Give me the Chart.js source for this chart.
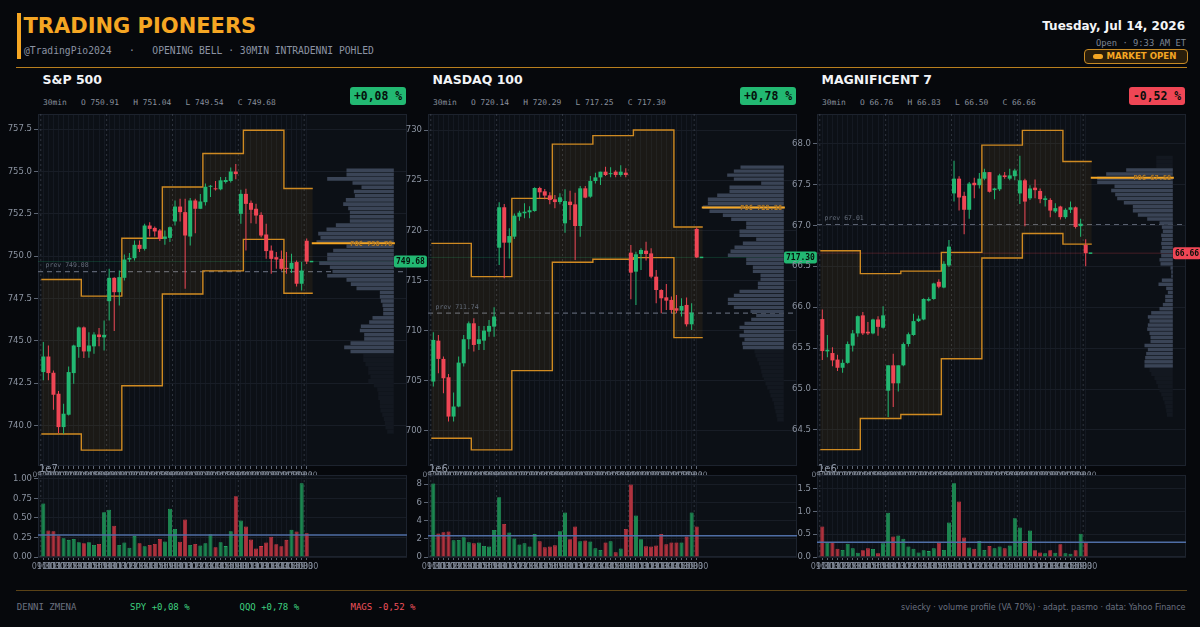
<!DOCTYPE html>
<html><head><meta charset="utf-8">
<script src="https://cdn.jsdelivr.net/npm/chart.js@4.4.1/dist/chart.umd.min.js"></script>
<style>
html,body{margin:0;padding:0;background:#06080c;width:1200px;height:627px;overflow:hidden;}
#root{position:relative;width:1200px;height:627px;overflow:hidden;}
.abs{position:absolute;white-space:pre;}
canvas{position:absolute;}
</style></head>
<body><div id="root"></div>
<script>
// ---------------- DATA ----------------
const timeLabels = [
 '09:30','10:00','10:30','11:00','11:30','12:00','12:30','13:00','13:30','14:00','14:30','15:00','15:30',
 '09:30','10:00','10:30','11:00','11:30','12:00','12:30','13:00','13:30','14:00','14:30','15:00','15:30',
 '09:30','10:00','10:30','11:00','11:30','12:00','12:30','13:00','13:30','14:00','14:30','15:00','15:30',
 '09:30','10:00','10:30','11:00','11:30','12:00','12:30','13:00','13:30','14:00','14:30','15:00','15:30',
 '09:30'];

const spxOpen  = [743.15,744.07,743.11,741.87,739.90,740.63,743.09,744.63,745.79,744.37,744.67,745.37,745.20,747.34,748.72,747.87,748.72,749.80,749.88,750.67,750.43,751.81,751.67,751.52,751.02,751.08,752.05,752.93,752.60,751.16,753.29,752.80,753.19,754.10,754.00,753.95,754.38,754.44,755.00,752.50,753.68,753.15,752.80,752.44,751.28,750.33,749.94,749.84,749.31,749.25,749.65,748.37,750.91];
const spxHigh  = [744.92,744.72,743.25,742.03,741.28,743.48,744.76,745.85,745.85,745.51,745.51,745.75,746.20,749.25,748.76,749.15,750.10,750.18,750.93,750.93,751.91,752.00,751.75,751.61,751.52,751.75,753.29,753.39,753.39,753.44,753.39,753.68,754.30,754.20,754.44,754.68,754.68,755.24,755.44,753.92,753.98,753.29,753.09,752.60,751.91,750.63,750.24,750.33,750.24,750.14,749.74,749.65,751.04];
const spxLow   = [742.66,742.66,740.93,739.55,739.51,740.59,742.46,744.00,743.98,744.00,744.23,744.67,744.43,746.20,745.57,747.09,748.56,749.65,749.74,750.24,750.33,751.16,751.16,750.89,750.67,750.83,751.81,752.05,748.07,750.63,751.36,752.80,753.00,753.50,753.88,753.90,754.30,754.35,754.54,751.91,750.33,751.95,751.91,751.12,749.84,748.96,749.25,749.15,748.96,749.00,748.21,747.97,749.54];
const spxClose = [744.07,743.09,741.81,739.90,740.69,743.15,744.72,745.79,744.37,744.72,745.37,745.22,745.35,748.72,747.87,748.76,749.80,749.90,750.67,750.43,751.81,751.61,751.46,751.02,751.16,751.71,752.93,752.60,751.22,753.29,752.80,753.23,754.10,754.15,753.95,754.48,754.50,755.00,754.85,753.68,753.09,752.74,752.40,751.22,750.30,749.84,749.80,749.25,749.25,749.61,748.37,749.15,749.68];
const spxVol   = [6.87,3.4,3.3,2.75,2.4,2.2,2.3,1.9,1.76,1.9,1.55,1.67,5.75,6.05,4.0,1.55,1.85,1.2,2.7,1.76,1.37,1.55,1.67,2.3,2.0,6.18,3.6,1.97,4.8,1.55,1.67,1.46,1.76,2.9,1.25,1.9,1.4,3.3,7.8,4.68,3.9,2.23,1.1,1.4,1.85,2.6,1.63,1.37,2.2,3.5,3.26,9.44,3.05];
const spxBandUpper = [748.62,747.64,751.06,754.09,756.07,757.44,754.00];
const spxBandLower = [739.49,738.54,742.34,747.76,749.13,750.99,747.81];
const spxProfile = [0,142,142,200,124,97,120,117,144,152,137,132,132,132,174,202,227,220,232,142,182,200,200,224,192,184,200,142,129,112,42,42,39,34,32,32,64,74,99,102,89,89,130,149,130,
  92,92,85,77,77,70,77,60,50,47,47,42,42,40,35,30,27,25,20];
const spxValueArea = [1,44];
const spxPrev = 749.08, spxPoc = 750.76;
const spxTicks = [740,742.5,745,747.5,750,752.5,755,757.5];
const spxVolTicks = [0,2.5,5,7.5,10];

const ndxOpen  = [704.92,709.00,707.18,705.35,701.43,702.43,706.74,709.14,710.73,708.67,709.00,709.90,710.40,718.27,722.30,718.77,719.37,721.36,721.70,721.80,721.93,724.22,723.89,723.49,723.09,722.82,720.70,722.86,722.59,720.43,724.19,723.36,724.92,725.28,725.85,725.60,725.85,725.52,725.75,717.77,715.88,717.64,717.97,717.70,715.38,714.05,713.32,713.06,712.23,711.99,712.56,710.63,720.14];
const ndxHigh  = [709.83,709.57,707.41,705.68,703.82,707.41,709.57,710.90,711.23,710.47,710.47,711.06,712.33,722.79,722.62,720.20,721.69,721.96,722.70,722.40,724.29,724.35,724.12,723.79,723.52,723.69,724.09,723.95,723.75,724.42,724.42,725.42,725.75,725.85,726.35,726.30,726.00,726.50,726.18,718.54,717.87,718.21,718.87,718.21,716.05,714.12,714.65,713.39,713.55,713.22,713.29,712.72,720.29];
const ndxLow   = [704.42,705.75,703.75,700.93,700.93,702.36,706.41,708.14,707.91,708.07,708.07,709.40,709.40,716.54,715.22,717.20,719.14,720.96,721.20,721.20,721.86,723.19,723.10,722.59,722.19,722.59,719.77,721.03,717.04,719.37,723.19,723.26,724.68,724.52,725.42,725.30,725.30,725.35,725.30,713.12,712.56,716.05,716.98,715.22,712.72,711.73,712.06,711.73,711.73,711.40,710.40,710.07,717.25];
const ndxClose = [709.07,707.18,705.25,701.43,702.43,706.81,709.14,710.73,708.57,709.14,710.00,710.47,711.40,722.30,718.77,719.43,721.46,721.76,721.86,722.00,724.22,723.79,723.46,723.02,722.82,723.29,722.92,722.52,720.43,724.19,723.26,724.92,725.28,725.85,725.52,725.70,725.52,725.85,725.52,715.78,717.61,718.04,717.64,715.38,714.05,713.22,712.99,712.06,711.99,712.46,710.63,711.79,717.30];
const ndxVol   = [8.07,2.57,2.72,2.79,1.83,1.87,2.17,1.61,1.5,1.58,1.21,1.14,2.97,6.57,3.63,2.68,2.02,1.36,1.5,1.14,2.53,1.72,1.06,1.14,1.28,2.83,4.88,1.94,3.34,1.72,1.8,1.69,0.95,0.77,1.58,1.72,0.51,0.92,3.08,7.96,4.55,1.94,1.17,1.14,1.25,2.53,1.39,1.58,1.58,1.58,2.24,4.88,3.34];
const ndxBandUpper = [718.70,715.38,723.19,728.60,729.44,730.00,720.33];
const ndxBandLower = [699.27,698.11,706.01,716.81,717.11,717.28,709.30];
const ndxProfile = [130,150,170,150,68,163,163,200,228,228,243,223,183,158,113,113,133,133,83,123,148,160,168,113,113,93,93,70,70,78,78,133,150,168,168,150,100,83,98,118,133,120,133,118,125,123,
  88,85,80,75,70,68,65,60,55,50,43,40,35,30,28,25,22,20];
const ndxValueArea = [0,45];
const ndxPrev = 711.74, ndxPoc = 722.28;
const ndxTicks = [700,705,710,715,720,725,730];
const ndxVolTicks = [0,2,4,6,8];

const magOpen  = [65.855,65.46,65.44,65.36,65.26,65.32,65.53,65.68,65.90,65.70,65.68,65.85,65.75,64.98,65.29,65.07,65.29,65.55,65.66,65.83,65.85,66.08,66.10,66.31,66.24,66.51,67.39,67.57,67.36,67.19,67.52,67.49,67.57,67.65,67.43,67.44,67.61,67.57,67.60,67.39,67.55,67.33,67.46,67.42,67.31,67.31,67.17,67.23,67.10,67.19,67.22,66.99,66.76];
const magHigh  = [65.973,65.66,65.51,65.42,65.36,65.58,65.72,65.90,65.94,65.82,65.86,65.89,66.01,65.29,65.43,65.29,65.57,65.69,65.92,65.90,66.11,66.12,66.30,66.34,66.56,66.82,67.79,67.60,67.41,67.53,67.58,67.64,67.69,67.65,67.46,67.63,67.65,67.69,67.69,67.85,67.57,67.49,67.56,67.45,67.36,67.33,67.27,67.24,67.21,67.29,67.23,67.08,66.83];
const magLow   = [65.355,65.39,65.28,65.22,65.20,65.31,65.46,65.64,65.66,65.66,65.67,65.65,65.74,64.66,64.78,64.97,65.28,65.52,65.65,65.82,65.84,66.07,66.09,66.23,66.23,66.49,67.29,67.18,66.89,67.08,67.33,67.45,67.55,67.40,67.32,67.42,67.57,67.55,67.55,67.26,66.99,67.31,67.33,67.27,67.23,67.10,67.15,67.07,67.08,67.15,66.96,66.86,66.50];
const magClose = [65.464,65.48,65.35,65.26,65.32,65.55,65.68,65.89,65.68,65.68,65.85,65.76,65.90,65.29,65.07,65.29,65.55,65.67,65.83,65.86,66.10,66.10,66.29,66.25,66.53,66.74,67.57,67.34,67.19,67.51,67.49,67.57,67.65,67.41,67.45,67.61,67.59,67.61,67.67,67.55,67.29,67.45,67.43,67.32,67.33,67.18,67.21,67.10,67.19,67.22,66.98,67.02,66.66];
const magVol   = [0.67,0.32,0.33,0.18,0.155,0.29,0.19,0.096,0.147,0.19,0.176,0.08,0.30,0.97,0.45,0.47,0.40,0.23,0.18,0.10,0.147,0.13,0.19,0.32,0.155,0.76,1.62,1.22,0.43,0.21,0.18,0.35,0.155,0.24,0.19,0.23,0.19,0.25,0.85,0.65,0.35,0.58,0.147,0.10,0.08,0.147,0.096,0.28,0.08,0.073,0.147,0.51,0.32];
const magBandUpper = [66.69,66.41,66.44,66.67,67.98,68.16,67.78];
const magBandLower = [64.26,64.64,64.69,65.37,66.60,66.90,66.77];
const magProfile = [50,50,50,140,200,227,227,175,185,173,167,147,120,120,105,77,40,33,30,35,33,35,33,37,35,40,37,7,5,5,33,43,20,15,23,23,30,40,65,75,70,75,77,70,67,67,85,75,80,83,85,85,
  70,65,55,50,45,40,35,30,25,22,20,18];
const magValueArea = [3,51];
const magPrev = 67.01, magPoc = 67.58;
const magTicks = [64.5,65,65.5,66,66.5,67,67.5,68];
const magVolTicks = [0,0.5,1,1.5];

const bandEdges = [-0.4,7.5,15.5,23.5,31.5,39.5,47.5,53.2];
const panelNames = ['S&P 500','NASDAQ 100','MAGNIFICENT 7'];
const tickerNames = ['SPY','QQQ','MAGS'];

// ---------------- STYLE / LAYOUT ----------------
const GREEN='#22b872', RED='#ef4655', ORANGE='#f5a623', BAND='#cf8a22';
const PLOT_BG='#0c1016', FRAME='#1d232e', TICKC='#8b93a1';
const XMIN=-1.05, XMAX=71.8, PROF_RIGHT=69.2, PROF_K=0.0658, POC_X0=53.0, POC_X1=69.4;
const PLOT_H=352, PLOT_W=369;
const MONO='"DejaVu Sans Mono", monospace', SANS='"DejaVu Sans", sans-serif';
Chart.defaults.font.family = SANS;

const root = document.getElementById('root');
function addText(s,o){
  const d=document.createElement('div'); d.className='abs'; d.textContent=s;
  d.style.fontFamily=o.family||SANS; d.style.fontSize=o.size+'px'; d.style.lineHeight=o.size+'px';
  d.style.fontWeight=o.weight||'normal'; d.style.color=o.color;
  d.style.top=(o.baseline-0.846*o.size)+'px';
  if(o.right!==undefined){d.style.right=o.right+'px';d.style.textAlign='right';} else d.style.left=o.left+'px';
  if(o.z) d.style.zIndex=o.z;
  root.appendChild(d); return d;
}
function addBox(o){
  const d=document.createElement('div'); d.className='abs';
  Object.assign(d.style,{left:o.left+'px',top:o.top+'px',width:o.width+'px',height:o.height+'px',background:o.bg,borderRadius:(o.r||0)+'px',boxSizing:'border-box'});
  if(o.border) d.style.border=o.border;
  if(o.z) d.style.zIndex=o.z;
  root.appendChild(d); return d;
}
const fmtPct = v => (v>=0?'+':'-')+Math.abs(v).toFixed(2).replace('.',',')+' %';

// header
addBox({left:17,top:13,width:4,height:46,bg:ORANGE});
addText('TRADING PIONEERS',{left:23.5,baseline:33.3,size:21,weight:'bold',color:ORANGE});
addText('@TradingPio2024   ·   OPENING BELL · 30MIN INTRADENNI POHLED',{left:24,baseline:54.3,size:9.7,family:MONO,color:'#8b93a3'});
addBox({left:16,top:66.5,width:1171,height:1.6,bg:'#b97f1e'});
addText('Tuesday, Jul 14, 2026',{right:15,baseline:30,size:12,weight:'bold',color:'#f4f5f7'});
addText('Open · 9:33 AM ET',{right:14,baseline:46,size:8.8,family:MONO,color:'#7d8594'});
addBox({left:1084,top:49,width:104,height:15,bg:'#2a1e0b',border:'1px solid #c78a25',r:4});
addBox({left:1093,top:53.5,width:10,height:5,bg:ORANGE,r:3});
addText('MARKET OPEN',{left:1106.5,baseline:59.5,size:8.6,weight:'bold',color:ORANGE});

// footer
addBox({left:16,top:590,width:1171,height:1.2,bg:'#5a4216'});
addText('DENNI ZMENA',{left:16.8,baseline:611,size:9,family:MONO,color:'#6b7280'});
addText('sviecky · volume profile (VA 70%) · adapt. pasmo · data: Yahoo Finance',{right:14.5,baseline:611,size:8,color:'#6b7280'});

function roundRect(ctx,x,y,w,h,r){ctx.beginPath();ctx.roundRect(x,y,w,h,r);}

const framePlugin = {
  id:'frame',
  beforeDraw(chart){const {ctx,chartArea:a}=chart;ctx.save();ctx.fillStyle=PLOT_BG;ctx.fillRect(a.left,a.top,a.right-a.left,a.bottom-a.top);ctx.restore();},
  beforeDatasetsDraw(chart){const {ctx,chartArea:a}=chart;ctx.save();ctx.strokeStyle=FRAME;ctx.lineWidth=1;ctx.strokeRect(Math.round(a.left)+0.5,Math.round(a.top)+0.5,Math.round(a.right-a.left)-1,Math.round(a.bottom-a.top)-1);ctx.restore();}
};

function lineDs(data,o){return Object.assign({type:'line',data,pointRadius:0,pointHoverRadius:0,fill:false,tension:0,borderWidth:1},o);}

function makePanel(p){
  const n=p.open.length;
  const up=p.close.map((c,i)=>c>=p.open[i]);
  const col=up.map(u=>u?GREEN:RED);
  const last=p.close[n-1];
  const dayBreaks=timeLabels.map((t,i)=>t==='09:30'?i-0.5:null).filter(v=>v!==null);
  const sep=(lo,hi)=>{const d=[];dayBreaks.forEach(b=>d.push({x:b,y:lo},{x:b,y:hi},{x:b,y:null}));return d;};
  const lo=Math.min(...p.low), hi=Math.max(...p.high), bin=(hi-lo)/p.profile.length;
  const binPx=PLOT_H/(p.ymax-p.ymin)*bin;
  const vaData=[],dimData=[];
  p.profile.forEach((v,k)=>{ if(v<=0)return; const pt={y:hi-(k+0.5)*bin,x:[PROF_RIGHT-v*PROF_K,PROF_RIGHT]};
    (k>=p.va[0]&&k<=p.va[1]?vaData:dimData).push(pt); });
  const bandPts=arr=>bandEdges.map((x,k)=>({x,y:arr[Math.min(k,arr.length-1)]}));
  const chg=(last/p.prev-1)*100, isUp=chg>=0;

  const L=p.L, R=L+PLOT_W;
  addText(p.name,{left:L+4.5,baseline:85,size:12.5,weight:'bold',color:'#f2f4f7'});
  addText('30min   O '+p.open[n-1].toFixed(2)+'   H '+p.high[n-1].toFixed(2)+'   L '+p.low[n-1].toFixed(2)+'   C '+last.toFixed(2),
    {left:L+5,baseline:105.3,size:7.9,family:MONO,color:'#8a919e'});
  const b=addBox({left:R-57,top:86.7,width:56,height:18,bg:isUp?GREEN:RED,r:3});
  b.style.display='flex';b.style.alignItems='center';b.style.justifyContent='center';
  b.style.font='bold 11.4px '+MONO; b.style.color='#06100b'; b.textContent=fmtPct(chg);
  addText(p.ticker+' '+fmtPct(chg),{left:p.footX,baseline:611,size:9,family:MONO,color:isUp?'#3ecf7f':'#f0525c'});

  // price chart
  const c1=document.createElement('canvas'); c1.width=38+PLOT_W+32; c1.height=PLOT_H+16;
  Object.assign(c1.style,{left:(L-38)+'px',top:'114px',zIndex:p.z});
  root.appendChild(c1);
  const annot={id:'annot',afterDatasetsDraw(chart){
    const {ctx,chartArea:a,scales:{x,y}}=chart; ctx.save();
    ctx.font='6.5px '+MONO; ctx.fillStyle='#646c7a'; ctx.textAlign='left'; ctx.textBaseline='middle';
    ctx.fillText('prev '+p.prev.toFixed(2),x.getPixelForValue(0.45),y.getPixelForValue(p.prev)-6);
    ctx.font='bold 7px '+MONO; ctx.fillStyle='#b27924'; ctx.textAlign='right';
    ctx.fillText('POC '+p.poc.toFixed(2),x.getPixelForValue(68.9),y.getPixelForValue(p.poc)+0.5);
    const txt=last.toFixed(2);
    ctx.font='bold 8px '+MONO;
    const ly=y.getPixelForValue(last), bx=a.right-13, bw=ctx.measureText(txt).width+4, bh=12;
    ctx.fillStyle=isUp?GREEN:RED; roundRect(ctx,bx,ly-bh/2,bw,bh,2); ctx.fill();
    ctx.fillStyle='#06100b'; ctx.textAlign='center';
    ctx.fillText(txt,bx+bw/2,ly+0.5);
    ctx.restore();
  }};
  new Chart(c1,{
    type:'bar',
    data:{datasets:[
      {type:'bar',data:p.open.map((o,i)=>({x:i,y:[o,p.close[i]]})),backgroundColor:col,barThickness:4,minBarLength:1,grouped:false,borderWidth:0,inflateAmount:0,order:1},
      {type:'bar',data:p.high.map((h,i)=>({x:i,y:[p.low[i],h]})),backgroundColor:col,barThickness:1,grouped:false,borderWidth:0,inflateAmount:0,order:2},
      lineDs([{x:n-1+0.6,y:last},{x:n-1+1.3,y:last}],{borderColor:GREEN,borderWidth:1.5,order:3}),
      lineDs([{x:POC_X0,y:p.poc},{x:POC_X1,y:p.poc}],{borderColor:ORANGE,borderWidth:2,order:4}),
      {type:'bar',indexAxis:'y',data:vaData,backgroundColor:'#3a4456',barThickness:Math.max(1,binPx-0.6),grouped:false,borderWidth:0,inflateAmount:0,order:6},
      {type:'bar',indexAxis:'y',data:dimData,backgroundColor:'#131820',barThickness:Math.max(1,binPx),grouped:false,borderWidth:0,inflateAmount:0,order:6},
      lineDs(bandPts(p.bandUp),{stepped:'before',borderColor:BAND,borderWidth:1.4,fill:'+1',backgroundColor:'rgba(245,166,35,0.065)',order:7}),
      lineDs(bandPts(p.bandLo),{stepped:'before',borderColor:BAND,borderWidth:1.4,order:7}),
      lineDs([{x:XMIN,y:p.prev},{x:XMAX,y:p.prev}],{borderColor:'#5a6170',borderWidth:1.2,borderDash:[5,4],order:8}),
      lineDs([{x:XMIN,y:last},{x:XMAX,y:last}],{borderColor:isUp?'rgba(34,184,114,0.22)':'rgba(239,70,85,0.25)',borderWidth:1,order:8}),
      lineDs(sep(p.ymin,p.ymax),{borderColor:'rgba(120,130,150,0.32)',borderWidth:1,borderDash:[2,3],spanGaps:false,order:9})
    ]},
    options:{
      responsive:false,animation:false,devicePixelRatio:1,events:[],
      layout:{padding:{left:0,right:32,top:0,bottom:0}},
      plugins:{legend:{display:false},tooltip:{enabled:false}},
      scales:{
        x:{type:'linear',min:XMIN,max:XMAX,offset:false,beginAtZero:false,
          grid:{color:'#141922',offset:false,drawTicks:true,tickLength:3,tickColor:'#5d6573'},
          border:{display:false},
          ticks:{autoSkip:false,maxRotation:0,minRotation:0,padding:2,color:'#7f8795',font:{size:7.5},callback:v=>timeLabels[v]},
          afterBuildTicks:s=>{s.ticks=timeLabels.map((_,i)=>({value:i}));},
          afterFit:s=>{s.height=16;s.paddingLeft=0;s.paddingRight=0;}},
        y:{type:'linear',min:p.ymin,max:p.ymax,offset:false,beginAtZero:false,
          grid:{color:'#181d26',offset:false,tickLength:4,tickColor:'#5d6573'},
          border:{display:false},
          ticks:{padding:2,color:TICKC,font:{size:8.5},callback:v=>v.toFixed(p.dec)},
          afterBuildTicks:s=>{s.ticks=p.ticks.map(v=>({value:v}));},
          afterFit:s=>{s.width=38;s.paddingTop=0;s.paddingBottom=0;}}
      }
    },
    plugins:[framePlugin,annot]
  });

  // volume chart
  const c2=document.createElement('canvas'); c2.width=38+PLOT_W; c2.height=120;
  Object.assign(c2.style,{left:(L-38)+'px',top:'460px',zIndex:p.z+1});
  root.appendChild(c2);
  const avg=p.vol.reduce((s,v)=>s+v,0)/p.vol.length;
  const volAnnot={id:'volAnnot',afterDraw(chart){const {ctx,chartArea:a}=chart;ctx.save();
    ctx.font='10px '+SANS;ctx.fillStyle=TICKC;ctx.textAlign='left';ctx.textBaseline='alphabetic';
    ctx.fillText(p.volExp,a.left+1,a.top-3.5);ctx.restore();}};
  new Chart(c2,{
    type:'bar',
    data:{datasets:[
      lineDs([{x:XMIN,y:avg},{x:XMAX,y:avg}],{borderColor:'#4f6ea6',borderWidth:1.5,order:0}),
      {type:'bar',data:p.vol.map((v,i)=>({x:i,y:v})),backgroundColor:up.map(u=>u?'#1c8650':'#b0323e'),
        borderColor:up.map(u=>u?'#25a663':'#d33c4a'),borderWidth:0.8,barThickness:4,grouped:false,inflateAmount:0,order:1},
      lineDs(sep(p.vmin,p.vmax),{borderColor:'rgba(120,130,150,0.32)',borderWidth:1,borderDash:[2,3],spanGaps:false,order:9})
    ]},
    options:{
      responsive:false,animation:false,devicePixelRatio:1,events:[],
      layout:{padding:{left:0,right:0,top:15,bottom:0}},
      plugins:{legend:{display:false},tooltip:{enabled:false}},
      scales:{
        x:{type:'linear',min:XMIN,max:XMAX,offset:false,beginAtZero:false,
          grid:{color:'#141922',offset:false,drawTicks:true,tickLength:3,tickColor:'#5d6573'},
          border:{display:false},
          ticks:{autoSkip:false,maxRotation:0,minRotation:0,padding:2,color:'#7f8795',font:{size:8},callback:v=>timeLabels[v]},
          afterBuildTicks:s=>{s.ticks=timeLabels.map((_,i)=>({value:i}));},
          afterFit:s=>{s.height=23;s.paddingLeft=0;s.paddingRight=0;}},
        y:{type:'linear',min:p.vmin,max:p.vmax,offset:false,beginAtZero:false,
          grid:{color:'#181d26',offset:false,tickLength:4,tickColor:'#5d6573'},
          border:{display:false},
          ticks:{padding:2,color:TICKC,font:{size:8.5},callback:p.volFmt},
          afterBuildTicks:s=>{s.ticks=p.volTicks.map(v=>({value:v}));},
          afterFit:s=>{s.width=38;s.paddingTop=0;s.paddingBottom=0;}}
      }
    },
    plugins:[framePlugin,volAnnot]
  });
}

makePanel({name:panelNames[0],ticker:tickerNames[0],L:38,z:1,footX:130,open:spxOpen,high:spxHigh,low:spxLow,close:spxClose,vol:spxVol,
  bandUp:spxBandUpper,bandLo:spxBandLower,profile:spxProfile,va:spxValueArea,prev:spxPrev,poc:spxPoc,
  ymin:737.6,ymax:758.4,ticks:spxTicks,dec:1,vmin:0,vmax:10.51,volTicks:spxVolTicks,volFmt:v=>(v/10).toFixed(2),volExp:'1e7'});
makePanel({name:panelNames[1],ticker:tickerNames[1],L:428,z:3,footX:239.5,open:ndxOpen,high:ndxHigh,low:ndxLow,close:ndxClose,vol:ndxVol,
  bandUp:ndxBandUpper,bandLo:ndxBandLower,profile:ndxProfile,va:ndxValueArea,prev:ndxPrev,poc:ndxPoc,
  ymin:696.5,ymax:731.6,ticks:ndxTicks,dec:0,vmin:0,vmax:9.0,volTicks:ndxVolTicks,volFmt:v=>v.toFixed(0),volExp:'1e6'});
makePanel({name:panelNames[2],ticker:tickerNames[2],L:817,z:5,footX:350.5,open:magOpen,high:magHigh,low:magLow,close:magClose,vol:magVol,
  bandUp:magBandUpper,bandLo:magBandLower,profile:magProfile,va:magValueArea,prev:magPrev,poc:magPoc,
  ymin:64.06,ymax:68.36,ticks:magTicks,dec:1,vmin:0,vmax:1.80,volTicks:magVolTicks,volFmt:v=>v.toFixed(1),volExp:'1e6'});
</script>
</body></html>
